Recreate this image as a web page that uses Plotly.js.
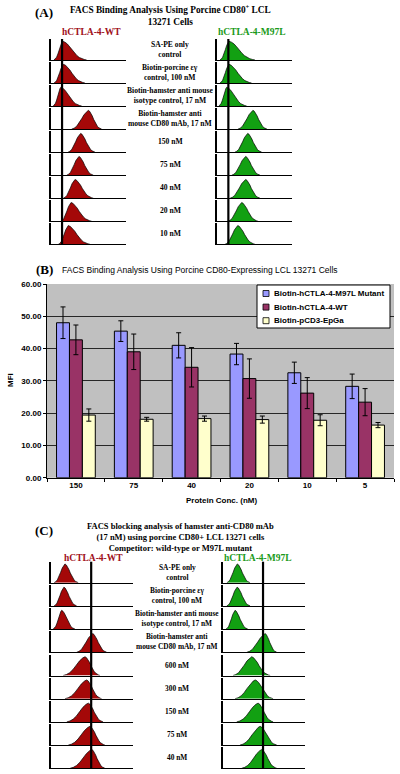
<!DOCTYPE html>
<html><head><meta charset="utf-8">
<script src="https://cdn.plot.ly/plotly-3.0.1.min.js"></script>
<style>html,body{margin:0;padding:0;background:#fff}#chart{width:400px;height:774px}</style>
</head><body><div id="chart"></div>
<script>
// ---------- Panel A data (FACS histograms, log-decade scale 0..4) ----------
const rowLabelsA = ["SA-PE only<br>control","Biotin-porcine εγ<br>control, 100 nM","Biotin-hamster anti mouse<br>isotype control, 17 nM","Biotin-hamster anti<br>mouse CD80 mAb, 17 nM","150 nM","75 nM","40 nM","20 nM","10 nM"];
const wtStartA = [0.16,0.16,0.12,1.10,0.91,0.84,0.66,0.52,0.39];
const wtPeakA  = [0.62,0.66,0.52,1.99,1.58,1.49,1.28,1.07,0.92];
const wtEndA   = [1.90,1.81,1.64,2.70,2.35,2.26,2.26,2.17,2.08];
const mStartA  = [0.14,0.14,0.09,1.10,0.94,0.77,0.68,0.57,0.41];
const mPeakA   = [0.62,0.62,0.50,1.90,1.62,1.51,1.51,1.30,1.09];
const mEndA    = [2.01,1.83,1.57,2.65,2.37,2.28,2.28,2.17,2.01];
const gateA = 0.59;

// ---------- Panel C data ----------
const rowLabelsC = ["SA-PE only<br>control","Biotin-porcine εγ<br>control, 100 nM","Biotin-hamster anti mouse<br>isotype control, 17 nM","Biotin-hamster anti<br>mouse CD80 mAb, 17 nM","600 nM","300 nM","150 nM","75 nM","40 nM"];
const wtStartC = [0.15,0.15,0.11,1.25,0.59,0.68,0.77,0.84,0.93];
const wtPeakC  = [0.68,0.63,0.52,2.03,1.66,1.74,1.82,1.90,1.99];
const wtEndC   = [1.33,1.25,1.17,2.72,2.39,2.47,2.54,2.63,2.63];
const mStartC  = [0.20,0.20,0.16,1.17,0.50,0.60,0.68,0.84,0.92];
const mPeakC   = [0.71,0.70,0.60,2.06,1.41,1.58,1.72,1.82,1.90];
const mEndC    = [1.33,1.33,1.22,2.63,2.31,2.45,2.45,2.63,2.63];
const gateC = 1.96;

// typical histogram profile (fraction of span, relative height)
const riseX = [0,0.15,0.3,0.45,0.6,0.75,0.9,1];
const riseY = [0,0.05,0.15,0.32,0.55,0.78,0.94,1];
const fallX = [0,0.1,0.2,0.3,0.4,0.5,0.6,0.7,0.8,0.9,1];
const fallY = [1,0.95,0.85,0.7,0.52,0.36,0.23,0.13,0.07,0.03,0];

// ---------- Panel B data ----------
const conc = ["150","75","40","20","10","5"];
const m97l = [48.0,45.4,41.0,38.3,32.5,28.3];
const m97lErr = [4.9,3.2,3.9,3.3,3.3,3.8];
const wt = [42.7,39.0,34.2,30.7,26.2,23.4];
const wtErr = [4.6,5.5,6.1,6.1,4.8,4.2];
const pcd3 = [19.4,18.1,18.3,18.0,17.8,16.3];
const pcd3Err = [1.9,0.6,0.8,1.1,1.7,0.8];
const seriesNames = ["Biotin-hCTLA-4-M97L Mutant","Biotin-hCTLA-4-WT","Biotin-pCD3-EpGa"];

// ---------- build ----------
const W=400,H=774;
const SERIF="Liberation Serif, Times New Roman, serif";
const SANS="Liberation Sans, Arial, sans-serif";
const RED="#a40808", GREEN="#12a012";
const data=[];
const layout={width:W,height:H,margin:{l:0,r:0,t:0,b:0},paper_bgcolor:"#fff",plot_bgcolor:"rgba(0,0,0,0)",
  showlegend:false,shapes:[],annotations:[],bargap:0.33,bargroupgap:0,barmode:"group"};
let axN=0;
function addAxes(x0,x1,yTop,yBot,xo,yo){
  axN++;
  const xs=axN===1?"x":"x"+axN, ys=axN===1?"y":"y"+axN;
  layout["xaxis"+(axN===1?"":axN)]=Object.assign({domain:[x0/W,x1/W],anchor:ys},xo);
  layout["yaxis"+(axN===1?"":axN)]=Object.assign({domain:[1-yBot/H,1-yTop/H],anchor:xs},yo);
  return {xs,ys};
}
function ann(text,x,y,o){
  layout.annotations.push(Object.assign({text:text,x:x/W,y:1-y/H,xref:"paper",yref:"paper",showarrow:false,
    xanchor:"center",yanchor:"middle",font:{family:SERIF,size:8,color:"#000",weight:"bold"}},o||{}));
}
function prect(x0,y0,x1,y1,fill,lw){
  layout.shapes.push({type:"rect",xref:"paper",yref:"paper",x0:x0/W,x1:x1/W,y0:1-y1/H,y1:1-y0/H,
    fillcolor:fill,line:{color:"#000",width:lw}});
}
function histColumn(x0,x1,bot0,step,rowH,starts,peaks,ends,color,gate){
  const refs=[];
  for(let i=0;i<starts.length;i++){
    const bot=bot0+i*step, top=bot-rowH;
    const a=addAxes(x0,x1,top,bot,
      {range:[0,4],showline:true,linecolor:"#000",linewidth:1,showgrid:false,zeroline:false,showticklabels:false,ticks:"",fixedrange:true},
      {range:[0,1.12],showline:true,linecolor:"#000",linewidth:2,showgrid:false,zeroline:false,showticklabels:false,ticks:"",fixedrange:true});
    const xs=[],ys=[];
    riseX.forEach((f,j)=>{xs.push(starts[i]+f*(peaks[i]-starts[i]));ys.push(riseY[j]);});
    fallX.forEach((f,j)=>{if(j===0)return;xs.push(peaks[i]+f*(ends[i]-peaks[i]));ys.push(fallY[j]);});
    data.push({type:"scatter",mode:"lines",x:xs,y:ys,xaxis:a.xs,yaxis:a.ys,fill:"tozeroy",fillcolor:color,
      line:{color:"#000",width:0.7},hoverinfo:"skip",showlegend:false});
    refs.push(a);
  }
  const last=bot0+(starts.length-1)*step;
  layout.shapes.push({type:"line",xref:refs[0].xs,yref:"paper",x0:gate,x1:gate,y0:1-last/H,y1:1-(bot0-rowH)/H,line:{color:"#000",width:2.2}});
}

// Panel A
histColumn(51,126,60,23.04,21,wtStartA,wtPeakA,wtEndA,RED,gateA);
histColumn(217.3,292.3,60,23.04,21,mStartA,mPeakA,mEndA,GREEN,gateA);
ann("(A)",44,13,{font:{family:SERIF,size:13,color:"#000",weight:"bold"}});
ann("FACS Binding Analysis Using Porcine CD80<sup>+</sup> LCL<br>13271 Cells",170,15,{font:{family:SERIF,size:9.3,color:"#000",weight:"bold"}});
ann("hCTLA-4-WT",91,32,{font:{family:SERIF,size:9.5,color:"#a0101a",weight:"bold"}});
ann("hCTLA-4-M97L",252,32,{font:{family:SERIF,size:9.5,color:"#1a9a1a",weight:"bold"}});
rowLabelsA.forEach((t,i)=>ann(t,170,60+i*23.04-10.5,{font:{family:SERIF,size:7.6,color:"#000",weight:"bold"}}));

// Panel B
const b=addAxes(47,394,284,477.7,
  {type:"category",showline:true,linecolor:"#000",linewidth:1,ticks:"outside",ticklen:3,tickcolor:"#000",tickson:"boundaries",
   showgrid:false,tickfont:{family:SANS,size:8,color:"#000",weight:"bold"},fixedrange:true},
  {range:[0,60],dtick:10,tickformat:".2f",showline:true,linecolor:"#000",linewidth:1,ticks:"outside",ticklen:3,tickcolor:"#000",
   showgrid:true,gridcolor:"#000",gridwidth:0.8,zeroline:false,tickfont:{family:SANS,size:8,color:"#000",weight:"bold"},fixedrange:true});
layout.shapes.push({type:"rect",xref:b.xs+" domain",yref:b.ys+" domain",x0:0,x1:1,y0:0,y1:1,fillcolor:"#c0c0c0",line:{width:0},layer:"below"});
const bcol=["#9999ff","#993366","#ffffcc"];
[[m97l,m97lErr],[wt,wtErr],[pcd3,pcd3Err]].forEach((s,k)=>{
  data.push({type:"bar",x:conc,y:s[0],name:seriesNames[k],xaxis:b.xs,yaxis:b.ys,
    marker:{color:bcol[k],line:{color:"#000",width:1}},
    error_y:{type:"data",array:s[1],visible:true,color:"#000",thickness:1,width:2.5},hoverinfo:"skip"});
});
// legend box (Excel style)
prect(257,285,390,328,"#fff",1);
seriesNames.forEach((nm,k)=>{
  const cy=293.5+k*13.6;
  prect(263,cy-3,269,cy+3,bcol[k],0.8);
  ann(nm,272,cy,{xanchor:"left",font:{family:SANS,size:8,color:"#000",weight:"bold"}});
});
ann("(B)",44,270,{font:{family:SERIF,size:13,color:"#000",weight:"bold"}});
ann("FACS Binding Analysis Using Porcine CD80-Expressing LCL 13271 Cells",60,270,{xanchor:"left",font:{family:SANS,size:8.5,color:"#000"}});
ann("MFI",10,380,{textangle:-90,font:{family:SANS,size:8,color:"#000",weight:"bold"}});
ann("Protein Conc. (nM)",221,500,{font:{family:SANS,size:8,color:"#000",weight:"bold"}});

// Panel C
histColumn(51,133,582.7,23.2,21,wtStartC,wtPeakC,wtEndC,RED,gateC);
histColumn(222.7,305,582.7,23.2,21,mStartC,mPeakC,mEndC,GREEN,gateC);
ann("(C)",44,530,{font:{family:SERIF,size:13,color:"#000",weight:"bold"}});
ann("FACS blocking analysis of hamster anti-CD80 mAb<br>(17 nM) using porcine CD80+ LCL 13271 cells<br>Competitor: wild-type or M97L mutant",180,537,{font:{family:SERIF,size:8.5,color:"#000",weight:"bold"}});
ann("hCTLA-4-WT",93,558,{font:{family:SERIF,size:9.5,color:"#a0101a",weight:"bold"}});
ann("hCTLA-4-M97L",258,558,{font:{family:SERIF,size:9.5,color:"#1a9a1a",weight:"bold"}});
rowLabelsC.forEach((t,i)=>ann(t,177,582.7+i*23.2-10.5,{font:{family:SERIF,size:7.4,color:"#000",weight:"bold"}}));

Plotly.newPlot("chart",data,layout,{staticPlot:true,displayModeBar:false});
</script></body></html>
